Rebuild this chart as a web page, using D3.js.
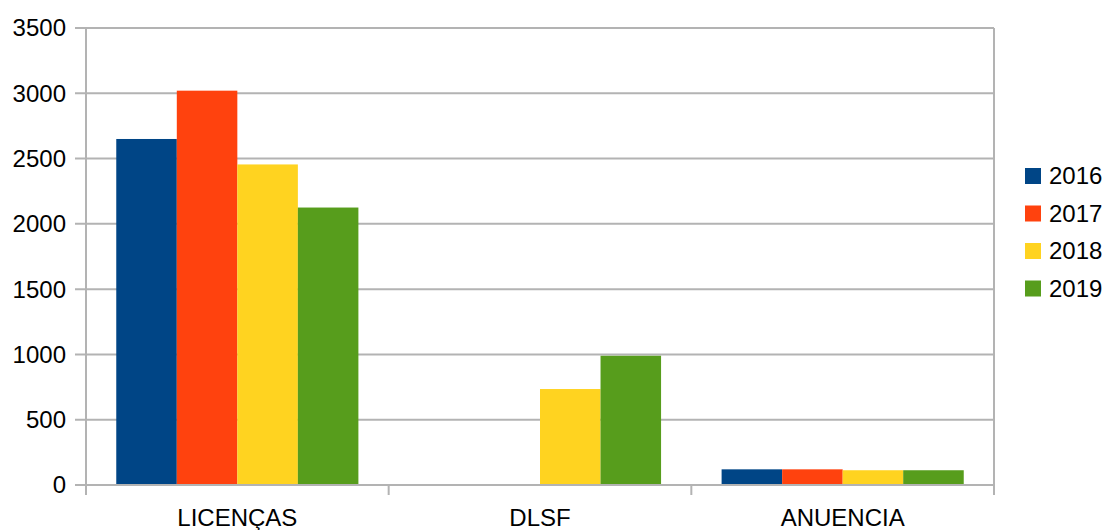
<!DOCTYPE html>
<html><head><meta charset="utf-8">
<script src="https://cdn.jsdelivr.net/npm/d3@7"></script>
<style>body{margin:0;background:#fff}svg{display:block}text{font-family:"Liberation Sans",Arial,sans-serif;fill:#000}</style>
</head><body><svg id="c" width="1108" height="530"></svg>
<script>
const categories = ["LICENÇAS", "DLSF", "ANUENCIA"];
const seriesNames = ["2016", "2017", "2018", "2019"];
const values2016 = [2650, 0, 120];
const values2017 = [3020, 0, 120];
const values2018 = [2455, 735, 113];
const values2019 = [2125, 990, 113];
const yTicks = [0, 500, 1000, 1500, 2000, 2500, 3000, 3500];
const colors = ["#004586", "#ff420e", "#ffd320", "#579d1c"];

const seriesValues = [values2016, values2017, values2018, values2019];
const svg = d3.select("#c");
const L = 86, R = 994, T = 28, B = 485;
const grid = "#b3b3b3";

const x0 = d3.scaleBand().domain(categories).range([L, R]).paddingInner(0).paddingOuter(0);
const x1 = d3.scaleBand().domain(seriesNames).range([0, x0.bandwidth()]).paddingInner(0).paddingOuter(0.5);
const y = d3.scaleLinear().domain([0, 3500]).range([B, T]);

// gridlines
svg.append("g").selectAll("line").data(yTicks).join("line")
  .attr("x1", L - 11).attr("x2", R).attr("y1", d => y(d)).attr("y2", d => y(d))
  .attr("stroke", grid).attr("stroke-width", 2);
// right border
svg.append("line").attr("x1", R).attr("x2", R).attr("y1", T).attr("y2", B).attr("stroke", grid).attr("stroke-width", 2);

// bars
categories.forEach((c, ci) => {
  seriesNames.forEach((s, si) => {
    const v = seriesValues[si][ci];
    if (!v) return;
    svg.append("rect").attr("x", x0(c) + x1(s)).attr("width", x1.bandwidth())
      .attr("y", y(v)).attr("height", y(0) - y(v)).attr("fill", colors[si]);
  });
});

// left axis line
svg.append("line").attr("x1", L).attr("x2", L).attr("y1", T).attr("y2", B + 10).attr("stroke", grid).attr("stroke-width", 2);
// bottom axis line
svg.append("line").attr("x1", L - 11).attr("x2", R).attr("y1", B).attr("y2", B).attr("stroke", grid).attr("stroke-width", 2);
// bottom ticks at band boundaries
const bounds = categories.map(c => x0(c)).concat([R]);
svg.append("g").selectAll("line").data(bounds).join("line")
  .attr("x1", d => d).attr("x2", d => d).attr("y1", B).attr("y2", B + 10)
  .attr("stroke", grid).attr("stroke-width", 2);

// y labels
svg.append("g").selectAll("text").data(yTicks).join("text")
  .attr("x", 66).attr("y", d => y(d)).attr("dy", "0.35em").attr("text-anchor", "end")
  .attr("font-size", 24).text(d => d);

// x labels
svg.append("g").selectAll("text").data(categories).join("text")
  .attr("x", d => x0(d) + x0.bandwidth() / 2).attr("y", 526).attr("text-anchor", "middle")
  .attr("font-size", 24).text(d => d);

// legend
const lg = svg.append("g").selectAll("g").data(seriesNames).join("g")
  .attr("transform", (d, i) => `translate(1025,${176 + i * 37.5})`);
lg.append("rect").attr("x", 0).attr("y", -8).attr("width", 16).attr("height", 16).attr("fill", (d, i) => colors[i]);
lg.append("text").attr("x", 24).attr("y", 0).attr("dy", "0.35em").attr("font-size", 24).text(d => d);
</script></body></html>
